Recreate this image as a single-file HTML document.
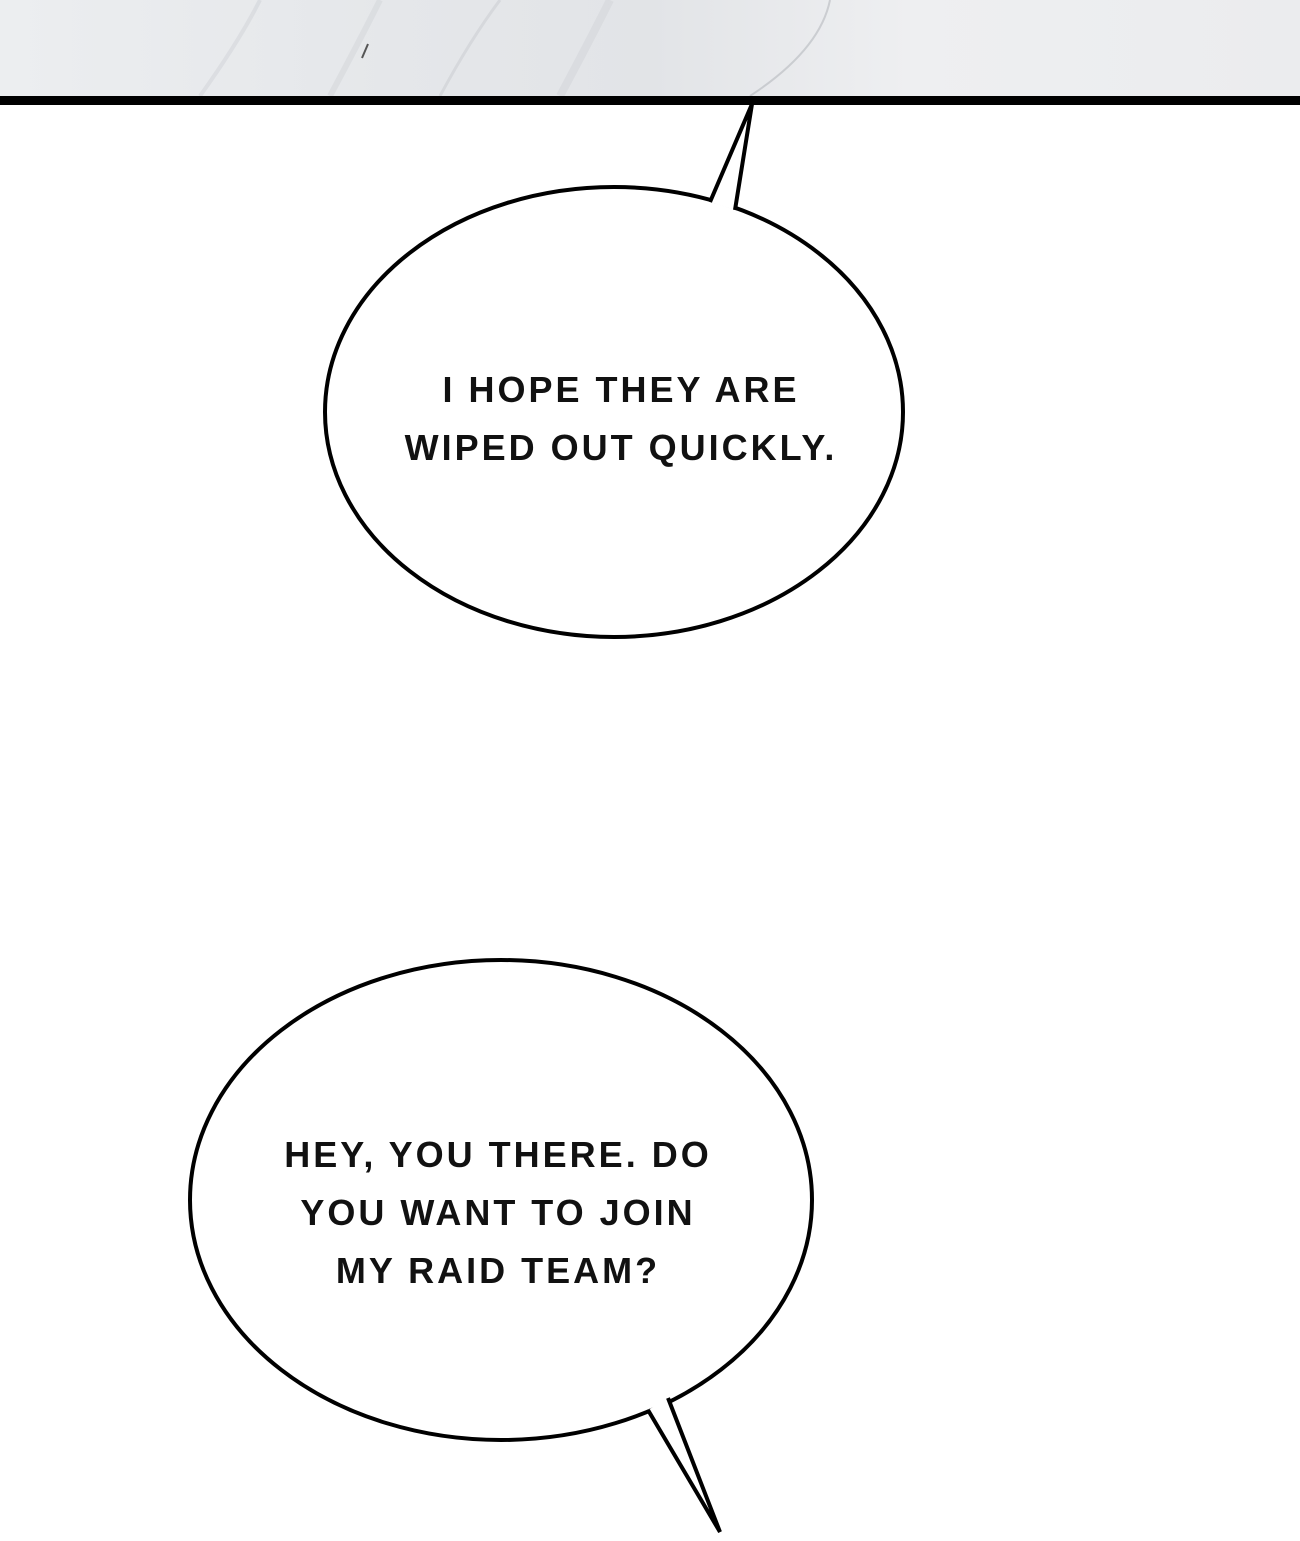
<!DOCTYPE html>
<html><head><meta charset="utf-8"><style>
html,body{margin:0;padding:0;background:#fff;}
body{width:1300px;height:1541px;position:relative;overflow:hidden;}
.t{position:absolute;font-family:"Liberation Sans",sans-serif;font-size:36px;font-weight:bold;color:#111;letter-spacing:3px;text-align:center;line-height:58px;}
</style></head><body>
<svg width="1300" height="1541" style="position:absolute;left:0;top:0">
<defs><linearGradient id="m" x1="0" y1="0" x2="1" y2="0">
<stop offset="0" stop-color="#eceef0"/><stop offset="0.3" stop-color="#e5e7ea"/><stop offset="0.5" stop-color="#e2e4e7"/><stop offset="0.7" stop-color="#eeeff1"/><stop offset="1" stop-color="#ebecee"/></linearGradient></defs>
<rect x="0" y="0" width="1300" height="96" fill="url(#m)"/>
<g fill="none" opacity="0.6">
<path d="M200 96 Q240 40 260 0" stroke="#d3d6da" stroke-width="4"/>
<path d="M330 96 Q360 40 380 0" stroke="#d6d9dc" stroke-width="6"/>
<path d="M440 96 Q470 40 500 0" stroke="#cdd0d4" stroke-width="3"/>
<path d="M560 96 Q590 40 610 0" stroke="#d3d6da" stroke-width="8"/>
<path d="M750 96 Q820 50 830 0" stroke="#b5b9be" stroke-width="2"/>
</g>
<path d="M362 58 L368 44" stroke="#555" stroke-width="2"/>
<rect x="0" y="96" width="1300" height="9" fill="#000"/>
<g fill="#fff" stroke="#000" stroke-width="4">
<ellipse cx="614" cy="412" rx="289" ry="225"/>
<ellipse cx="501" cy="1200" rx="311" ry="240"/>
</g>
<path d="M710 202 L752 104 L735 210" fill="#fff" stroke="#000" stroke-width="4"/>
<path d="M648 1410 L720 1532 L668 1398" fill="#fff" stroke="#000" stroke-width="4"/>
</svg>
<div class="t" style="left:361px;top:361px;width:520px">I HOPE THEY ARE<br>WIPED OUT QUICKLY.</div>
<div class="t" style="left:238px;top:1126px;width:520px">HEY, YOU THERE. DO<br>YOU WANT TO JOIN<br>MY RAID TEAM?</div>
</body></html>
